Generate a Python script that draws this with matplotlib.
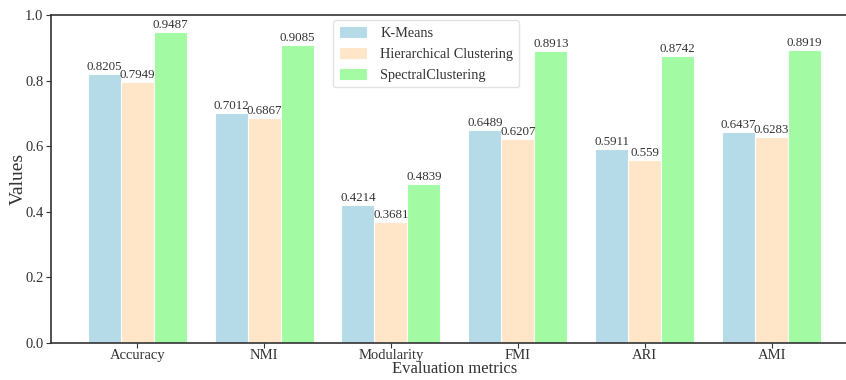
import matplotlib
matplotlib.use("Agg")
import matplotlib.pyplot as plt
import numpy as np

plt.rcParams['font.family'] = ['Liberation Serif', 'DejaVu Serif']

metrics = ["Accuracy", "NMI", "Modularity", "FMI", "ARI", "AMI"]
series_names = ["K-Means", "Hierarchical Clustering", "SpectralClustering"]
kmeans = [0.8205, 0.7012, 0.4214, 0.6489, 0.5911, 0.6437]
hier = [0.7949, 0.6867, 0.3681, 0.6207, 0.559, 0.6283]
spectral = [0.9487, 0.9085, 0.4839, 0.8913, 0.8742, 0.8919]
colors = ["#ADD8E6", "#FFE4C4", "#98FB98"]

fig = plt.figure(figsize=(8.46, 3.8), dpi=100)
ax = fig.add_axes([0.0603, 0.0974, 1.014 - 0.0603, 0.9605 - 0.0974])

x = np.arange(len(metrics))
w = 0.26
for i, (vals, name, c) in enumerate(zip([kmeans, hier, spectral], series_names, colors)):
    bars = ax.bar(x + (i - 1) * w, vals, w, label=name, color=c, alpha=0.9,
                  edgecolor='white', linewidth=0.8)
    for b, v in zip(bars, vals):
        ax.text(b.get_x() + b.get_width() / 2, v + 0.003, str(v), ha='center',
                va='bottom', fontsize=9.3, color='#333333')

ax.set_ylim(0, 1.0)
ax.set_xlim(-0.679, 5.679)
ax.set_xticks(x)
ax.set_xticklabels(metrics, fontsize=10.5, color='#333333')
ax.tick_params(axis='y', labelsize=10.5, colors='#333333', pad=2)
ax.tick_params(axis='x', colors='#333333', pad=0.5)
ax.set_xlabel("Evaluation metrics", fontsize=12, color='#333333')
ax.set_ylabel("Values", fontsize=14, color='#333333')
ax.xaxis.set_label_coords((455 - 51) / 807, -(369 - 343) / 328)
ax.yaxis.set_label_coords((18 - 51) / 807, 0.5)
ax.xaxis.label.set_va('center')
ax.yaxis.label.set_va('center')
for s in ax.spines.values():
    s.set_color('#333333')
    s.set_linewidth(1.2)

leg = ax.legend(loc='upper left', bbox_to_anchor=((333 - 51) / 807, (343 - 20) / 328),
                borderaxespad=0, fontsize=10.3, frameon=True,
                handlelength=2.0, handletextpad=0.9, handleheight=0.9)
leg.get_frame().set_edgecolor('#dddddd')
for t in leg.get_texts():
    t.set_color('#333333')

fig.savefig("out.png", dpi=100)
